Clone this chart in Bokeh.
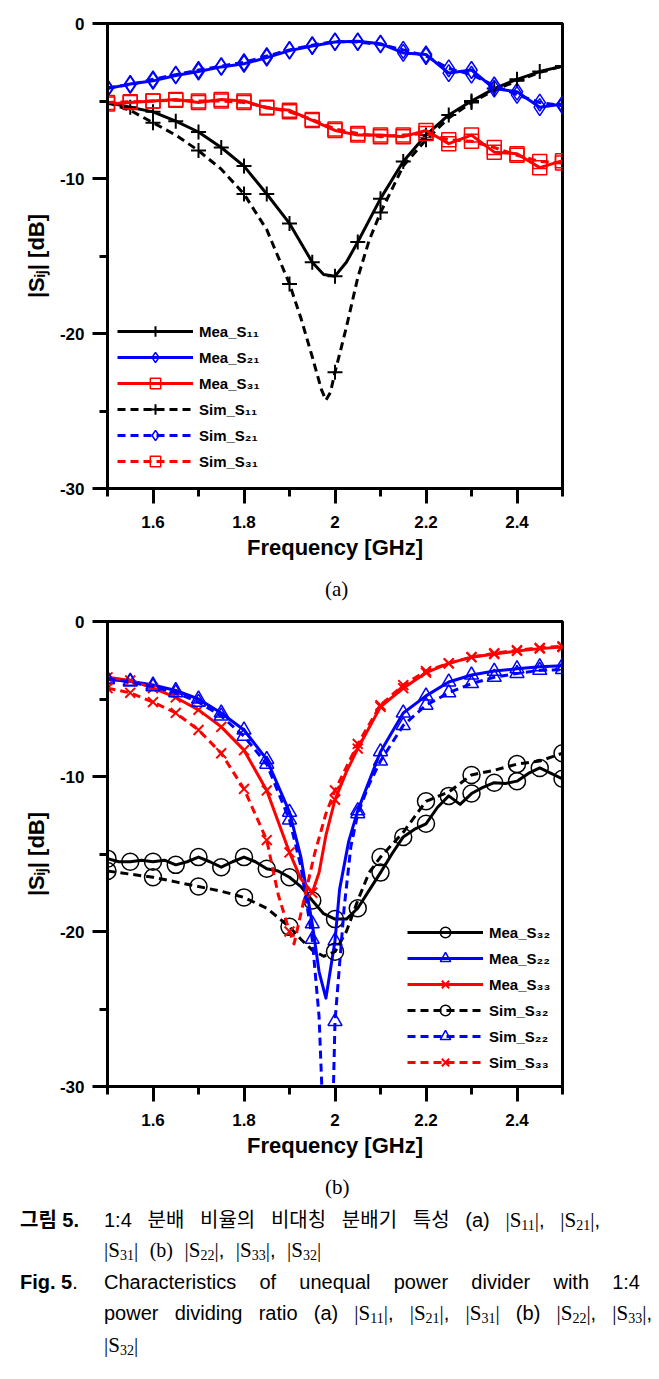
import numpy as np
from bokeh.plotting import figure
from bokeh.models import (Range1d, FixedTicker, CustomJSTickFormatter, Legend, LegendItem,
                          ColumnDataSource, Div)
from bokeh.layouts import column
from bokeh.embed import file_html
from bokeh.resources import INLINE

FONT = "Liberation Sans"
BLACK, BLUE, RED = "#000000", "#0000ff", "#ff0000"

# ---------------- data: chart (a) ----------------
f_grid = [1.5, 1.55, 1.6, 1.65, 1.7, 1.75, 1.8, 1.85, 1.9, 1.95, 2.0,
          2.05, 2.1, 2.15, 2.2, 2.25, 2.3, 2.35, 2.4, 2.45, 2.5]

mea_s11_f = [1.5, 1.55, 1.6, 1.65, 1.7, 1.75, 1.8, 1.85, 1.9, 1.95, 1.975, 2.0, 2.025,
             2.05, 2.1, 2.15, 2.2, 2.25, 2.3, 2.35, 2.4, 2.45, 2.5]
mea_s11_db = [-5.1, -5.4, -5.7, -6.3, -7.0, -8.0, -9.2, -11.0, -12.9, -15.4, -16.2, -16.3, -15.4,
              -14.1, -11.3, -8.9, -7.2, -5.9, -5.0, -4.2, -3.6, -3.1, -2.75]

sim_s11_f = [1.5, 1.55, 1.6, 1.65, 1.7, 1.75, 1.8, 1.85, 1.9, 1.925, 1.95, 1.97, 1.98, 1.99,
             2.0, 2.025, 2.05, 2.075, 2.1, 2.15, 2.2, 2.25, 2.3, 2.35, 2.4, 2.45, 2.5]
sim_s11_db = [-5.1, -5.6, -6.4, -7.2, -8.2, -9.4, -11.0, -13.3, -16.8, -19.0, -21.5, -23.6, -24.3, -23.8,
              -22.5, -19.6, -16.4, -14.0, -12.2, -9.2, -7.5, -6.1, -5.1, -4.3, -3.7, -3.15, -2.75]

mea_s21_db = [-4.2, -3.9, -3.7, -3.35, -3.1, -2.8, -2.6, -2.2, -1.75, -1.45, -1.2,
              -1.15, -1.3, -1.9, -2.0, -3.2, -3.0, -4.2, -4.4, -5.4, -5.2]
sim_s21_db = [-4.15, -3.95, -3.6, -3.3, -3.0, -2.75, -2.5, -2.1, -1.7, -1.4, -1.15,
              -1.2, -1.35, -1.7, -2.1, -2.9, -3.3, -4.0, -4.6, -5.1, -5.3]

mea_s31_db = [-5.2, -5.1, -5.0, -4.9, -5.1, -4.9, -5.0, -5.45, -5.6, -6.25, -6.9,
              -7.2, -7.2, -7.3, -6.9, -7.75, -7.2, -8.3, -8.4, -9.3, -8.85]
sim_s31_db = [-5.1, -5.05, -5.0, -4.95, -5.0, -5.0, -5.1, -5.4, -5.7, -6.2, -6.8,
              -7.1, -7.3, -7.2, -7.1, -7.5, -7.6, -8.0, -8.5, -8.9, -9.0]

# ---------------- data: chart (b) ----------------
mea_s32_f = [1.5, 1.525, 1.55, 1.575, 1.6, 1.625, 1.65, 1.675, 1.7, 1.725, 1.75, 1.775, 1.8,
             1.825, 1.85, 1.875, 1.9, 1.925, 1.95, 1.975, 2.0, 2.025, 2.05, 2.075, 2.1, 2.125,
             2.15, 2.175, 2.2, 2.225, 2.25, 2.275, 2.3, 2.325, 2.35, 2.375, 2.4, 2.425, 2.45,
             2.475, 2.5]
mea_s32_db = [-15.3, -15.5, -15.5, -15.4, -15.5, -15.4, -15.7, -15.5, -15.2, -15.5, -15.85, -15.5, -15.2,
              -15.5, -15.95, -16.1, -16.5, -17.1, -18.0, -18.85, -19.2, -19.2, -18.5, -17.35, -16.2, -15.0,
              -13.9, -13.4, -13.05, -12.0, -11.25, -11.8, -11.1, -10.7, -10.4, -10.45, -10.3, -9.8, -9.45,
              -9.8, -10.15]

sim_s32_f = [1.5, 1.55, 1.6, 1.65, 1.7, 1.75, 1.8, 1.85, 1.9, 1.925, 1.95, 1.975, 2.0, 2.025,
             2.05, 2.075, 2.1, 2.15, 2.2, 2.25, 2.3, 2.35, 2.4, 2.45, 2.5]
sim_s32_db = [-16.1, -16.3, -16.5, -16.8, -17.1, -17.4, -17.8, -18.5, -19.7, -20.5, -21.2, -21.6, -21.3, -20.0,
              -18.0, -16.2, -15.2, -13.6, -11.6, -11.0, -9.9, -9.6, -9.2, -9.0, -8.5]

mea_s22_f = [1.5, 1.55, 1.6, 1.65, 1.7, 1.75, 1.8, 1.85, 1.9, 1.925, 1.95, 1.965, 1.98, 2.0,
             2.01, 2.03, 2.05, 2.075, 2.1, 2.15, 2.2, 2.25, 2.3, 2.35, 2.4, 2.45, 2.5]
mea_s22_db = [-3.75, -3.85, -4.1, -4.45, -5.0, -5.9, -7.0, -8.9, -12.3, -15.2, -19.5, -22.6, -24.3, -20.6,
              -17.3, -14.2, -12.2, -10.3, -8.4, -5.9, -4.8, -3.9, -3.45, -3.2, -3.05, -2.92, -2.85]

sim_s22_f = [1.5, 1.55, 1.6, 1.65, 1.7, 1.75, 1.8, 1.85, 1.9, 1.925, 1.95, 1.965, 1.975, 1.985,
             1.995, 2.0, 2.02, 2.035, 2.05, 2.075, 2.1, 2.15, 2.2, 2.25, 2.3, 2.35, 2.4, 2.45, 2.5]
sim_s22_db = [-3.7, -3.9, -4.2, -4.6, -5.2, -6.1, -7.4, -9.2, -12.8, -15.8, -20.5, -25.5, -33.0, -35.0,
              -32.0, -25.8, -18.5, -14.5, -12.4, -10.5, -9.0, -6.7, -5.4, -4.6, -4.0, -3.6, -3.35, -3.15, -3.1]

mea_s33_f = [1.5, 1.55, 1.6, 1.65, 1.7, 1.75, 1.8, 1.85, 1.9, 1.925, 1.95, 1.965, 1.98, 2.0,
             2.025, 2.05, 2.1, 2.15, 2.2, 2.25, 2.3, 2.35, 2.4, 2.45, 2.5]
mea_s33_db = [-3.6, -3.8, -4.3, -4.9, -5.7, -6.8, -8.3, -10.9, -14.9, -16.6, -17.5, -16.2, -13.8, -11.5,
              -9.7, -8.2, -5.5, -4.3, -3.3, -2.7, -2.3, -2.1, -1.9, -1.75, -1.65]

sim_s33_f = [1.5, 1.55, 1.6, 1.65, 1.7, 1.75, 1.8, 1.85, 1.875, 1.9, 1.91, 1.93, 1.955, 1.98,
             2.0, 2.05, 2.1, 2.15, 2.2, 2.25, 2.3, 2.35, 2.4, 2.45, 2.5]
sim_s33_db = [-4.3, -4.6, -5.2, -5.9, -7.0, -8.5, -10.8, -14.1, -17.6, -20.0, -20.8, -18.2, -15.0, -12.4,
              -10.9, -7.9, -5.4, -4.1, -3.2, -2.7, -2.3, -2.05, -1.85, -1.7, -1.6]

X_MAJOR = [1.6, 1.8, 2.0, 2.2, 2.4]
X_MINOR = [1.5, 1.7, 1.9, 2.1, 2.3, 2.5]
Y_MAJOR = [0, -10, -20, -30]
Y_MINOR = [-5, -15, -25]
X_LABEL = "Frequency [GHz]"
Y_LABEL = "|S\u1d62\u2c7c| [dB]"


def pick(f, db, step):
    """Keep the points that sit on the marker spacing of the original plot."""
    fx, fy = [], []
    for a, b in zip(f, db):
        k = a / step
        if abs(k - round(k)) < 1e-6:
            fx.append(a)
            fy.append(b)
    return fx, fy


def make_fig(top):
    p = figure(frame_width=455, frame_height=465, x_range=Range1d(1.5, 2.5), y_range=Range1d(-30, 0),
               output_backend="svg", toolbar_location=None,
               min_border_left=107, min_border_right=10, min_border_top=top, min_border_bottom=85,
               background_fill_color="white", border_fill_color="white")
    p.margin = 0
    p.xgrid.visible = False
    p.ygrid.visible = False
    p.outline_line_color = "black"
    p.outline_line_width = 3
    p.outline_line_alpha = 1
    p.xaxis.ticker = FixedTicker(ticks=X_MAJOR, minor_ticks=X_MINOR)
    p.yaxis.ticker = FixedTicker(ticks=Y_MAJOR, minor_ticks=Y_MINOR)
    fmt = "return String(Math.round(tick*10)/10);"
    p.xaxis.formatter = CustomJSTickFormatter(code=fmt)
    p.yaxis.formatter = CustomJSTickFormatter(code=fmt)
    for ax in (p.xaxis[0], p.yaxis[0]):
        ax.axis_line_width = 3
        ax.axis_line_color = "black"
        ax.major_tick_line_width = 3
        ax.minor_tick_line_width = 3
        ax.major_tick_in = 0
        ax.major_tick_out = 15
        ax.minor_tick_in = 0
        ax.minor_tick_out = 8
        ax.major_label_text_font = FONT
        ax.major_label_text_font_style = "bold"
        ax.major_label_text_font_size = "17px"
        ax.major_label_text_color = "black"
        ax.axis_label_text_font = FONT
        ax.axis_label_text_font_style = "bold"
        ax.axis_label_text_font_size = "22px"
        ax.axis_label_text_color = "black"
    p.xaxis.major_label_standoff = 12
    p.yaxis.major_label_standoff = 8
    p.xaxis.axis_label = X_LABEL
    p.xaxis.axis_label_standoff = 4
    p.yaxis.axis_label = Y_LABEL
    p.yaxis.axis_label_standoff = 8
    return p


def add_series(p, f, db, color, dash, marker, msize, step, mlw=1.5):
    src = ColumnDataSource(dict(x=f, y=db))
    lr = p.line("x", "y", source=src, line_color=color, line_width=3,
                line_dash=dash, line_join="round")
    mx, my = pick(f, db, step)
    msrc = ColumnDataSource(dict(x=mx, y=my))
    mr = p.scatter("x", "y", source=msrc, marker=marker, size=msize, line_color=color,
                   fill_color=None, line_width=mlw)
    return [lr, mr]


def make_legend(items, loc):
    return Legend(items=items, location=loc, glyph_width=76, glyph_height=26, label_height=26,
                  spacing=0, padding=0, margin=0, border_line_alpha=0, background_fill_alpha=0,
                  label_text_font=FONT, label_text_font_style="bold", label_text_font_size="15px",
                  label_text_color="black", label_standoff=6)


# ---------------- chart (a) ----------------
pa = make_fig(23)
SOLID, DASH = "solid", "8 5"
ra = [
    ("Mea_S\u2081\u2081", add_series(pa, mea_s11_f, mea_s11_db, BLACK, SOLID, "cross", 15, 0.05, 2)),
    ("Mea_S\u2082\u2081", add_series(pa, f_grid, mea_s21_db, BLUE, SOLID, "diamond", 17, 0.05)),
    ("Mea_S\u2083\u2081", add_series(pa, f_grid, mea_s31_db, RED, SOLID, "square", 14, 0.05)),
    ("Sim_S\u2081\u2081", add_series(pa, sim_s11_f, sim_s11_db, BLACK, DASH, "cross", 15, 0.1, 2)),
    ("Sim_S\u2082\u2081", add_series(pa, f_grid, sim_s21_db, BLUE, DASH, "diamond", 17, 0.05)),
    ("Sim_S\u2083\u2081", add_series(pa, f_grid, sim_s31_db, RED, DASH, "square", 14, 0.05)),
]
pa.add_layout(make_legend([LegendItem(label=n, renderers=r) for n, r in ra], (10, 14)))

# ---------------- chart (b) ----------------
pb = make_fig(16)
rb = [
    ("Mea_S\u2083\u2082", add_series(pb, mea_s32_f, mea_s32_db, BLACK, SOLID, "circle", 17, 0.05)),
    ("Mea_S\u2082\u2082", add_series(pb, mea_s22_f, mea_s22_db, BLUE, SOLID, "triangle", 14, 0.05)),
    ("Mea_S\u2083\u2083", add_series(pb, mea_s33_f, mea_s33_db, RED, SOLID, "x", 14, 0.05, 2)),
    ("Sim_S\u2083\u2082", add_series(pb, sim_s32_f, sim_s32_db, BLACK, DASH, "circle", 17, 0.1)),
    ("Sim_S\u2082\u2082", add_series(pb, sim_s22_f, sim_s22_db, BLUE, DASH, "triangle", 14, 0.05)),
    ("Sim_S\u2083\u2083", add_series(pb, sim_s33_f, sim_s33_db, RED, DASH, "x", 14, 0.05, 2)),
]
pb.add_layout(make_legend([LegendItem(label=n, renderers=r) for n, r in rb], (300, 11)))

# ---------------- captions ----------------
SERIF = "'Liberation Serif','Times New Roman',serif"
SANS = "'Liberation Sans','Noto Sans CJK KR',sans-serif"


def sab(sub):
    return (f"<span style=\"font-family:{SERIF};font-size:21px\">|S"
            f"<span style=\"font-size:14px;position:relative;top:3px\">{sub}</span>|</span>")


def sublabel(txt):
    return Div(text=(f"<div style=\"position:relative;width:659px;height:32px\">"
                     f"<div style=\"position:absolute;left:325px;top:2px;font-family:{SERIF};"
                     f"font-size:21px;line-height:28px;color:#000\">{txt}</div></div>"),
               width=659, height=32, margin=0)


def line_div(left, top, width, html, justify=True, bold=False, extra=""):
    j = "text-align:justify;text-align-last:justify;" if justify else ""
    b = "font-weight:bold;" if bold else ""
    w = f"width:{width}px;" if width else ""
    return (f"<div style=\"position:absolute;left:{left}px;top:{top}px;{w}{j}{b}{extra}"
            f"white-space:nowrap;line-height:24px\">{html}</div>")


cap_html = "".join([
    line_div(20, 5, None, "그림 5.", False, True),
    line_div(104, 5, 496, f"1:4 분배 비율의 비대칭 분배기 특성 (a) {sab('11')}, {sab('21')},"),
    line_div(104, 35, None, f"{sab('31')} <span style=\"font-family:{SERIF}\">(b)</span> "
                            f"{sab('22')}, {sab('33')}, {sab('32')}", False, extra="word-spacing:6px;"),
    line_div(20, 67, None, "Fig. 5<span style=\"font-weight:normal\">.</span>", False, True),
    line_div(104, 67, 536, "Characteristics of unequal power divider with 1:4"),
    line_div(104, 98, 548, f"power dividing ratio (a) {sab('11')}, {sab('21')}, {sab('31')} (b) "
                           f"{sab('22')}, {sab('33')},"),
    line_div(104, 130, None, sab('32'), False),
])
caption = Div(text=(f"<div style=\"position:relative;width:659px;height:165px;font-family:{SANS};"
                    f"font-size:20px;color:#000\">{cap_html}</div>"),
              width=659, height=165, margin=0)

layout = column(pa, sublabel("(a)"), pb, sublabel("(b)"), caption, spacing=0)
open("out.html", "w").write(file_html(layout, INLINE))
